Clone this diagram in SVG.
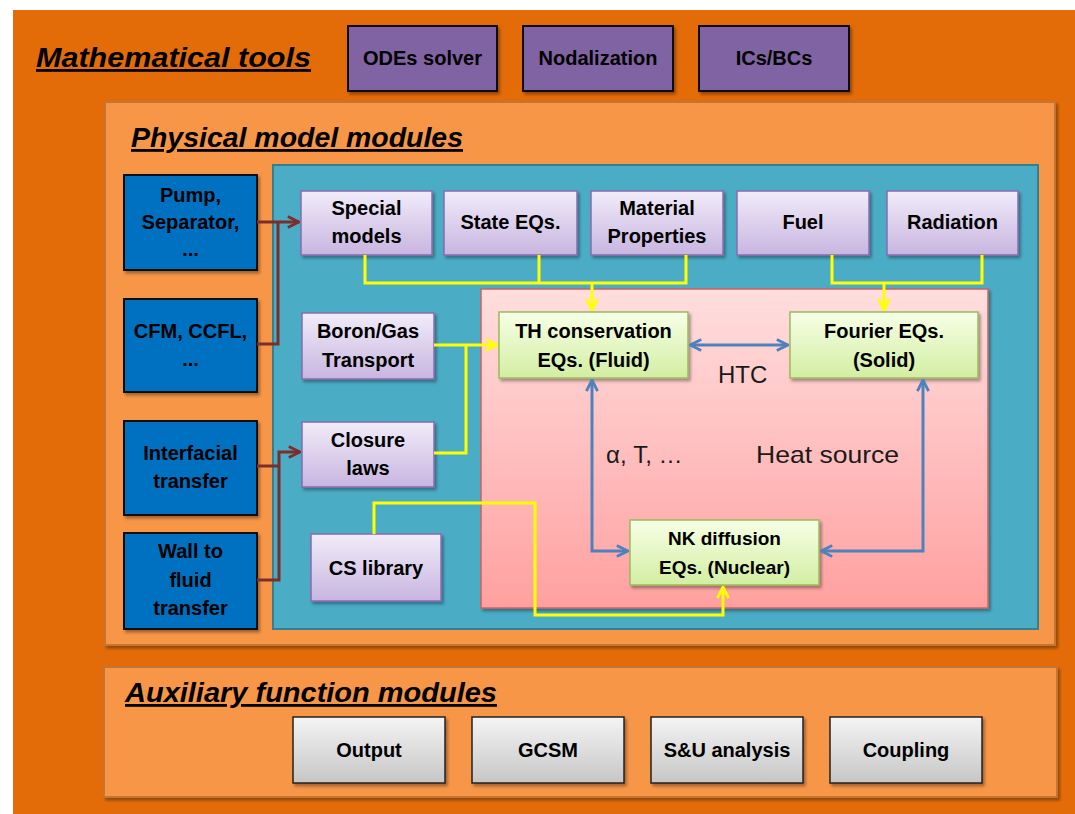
<svg xmlns="http://www.w3.org/2000/svg" width="1075" height="814" viewBox="0 0 1075 814">
<defs>
<linearGradient id="gPurple" x1="0" y1="0" x2="0" y2="1"><stop offset="0" stop-color="#F1ECF9"/><stop offset="1" stop-color="#C8B5E0"/></linearGradient>
<linearGradient id="gGreen" x1="0" y1="0" x2="0" y2="1"><stop offset="0" stop-color="#F6FFE6"/><stop offset="1" stop-color="#D3EEA2"/></linearGradient>
<linearGradient id="gGray" x1="0" y1="0" x2="0" y2="1"><stop offset="0" stop-color="#F4F4F4"/><stop offset="1" stop-color="#C6C6C6"/></linearGradient>
<linearGradient id="gPink" x1="0" y1="0" x2="0" y2="1"><stop offset="0" stop-color="#FFDEDE"/><stop offset="1" stop-color="#FFA0A0"/></linearGradient>
<filter id="sh" x="-10%" y="-10%" width="130%" height="130%"><feDropShadow dx="2" dy="2.5" stdDeviation="1.5" flood-color="#000" flood-opacity="0.35"/></filter>
<marker id="aBrown" viewBox="0 0 10 10" refX="9" refY="5" markerUnits="userSpaceOnUse" markerWidth="14" markerHeight="14" orient="auto-start-reverse"><path d="M1,1 L9,5 L1,9" fill="none" stroke="#7B2E2B" stroke-width="2"/></marker>
<marker id="aYellow" viewBox="0 0 10 10" refX="9" refY="5" markerUnits="userSpaceOnUse" markerWidth="14" markerHeight="14" orient="auto-start-reverse"><path d="M1,1 L9,5 L1,9" fill="none" stroke="#FFFF00" stroke-width="2"/></marker>
<marker id="aBlue" viewBox="0 0 10 10" refX="9" refY="5" markerUnits="userSpaceOnUse" markerWidth="14" markerHeight="14" orient="auto-start-reverse"><path d="M1,1 L9,5 L1,9" fill="none" stroke="#4F81BD" stroke-width="2"/></marker>
</defs>
<style>
.t{font-family:"Liberation Sans",Arial,sans-serif;font-weight:bold;font-size:20px;fill:#000;text-anchor:middle}
.title{font-family:"Liberation Sans",Arial,sans-serif;font-weight:bold;font-style:italic;font-size:28px;fill:#000;text-decoration:underline}
.lbl{font-family:"Liberation Sans",Arial,sans-serif;font-size:24px;fill:#1a1a1a}
.blue{fill:#0070C0;stroke:#111;stroke-width:2;filter:url(#sh)}
.purp{fill:#8064A2;stroke:#111;stroke-width:2;filter:url(#sh)}
.lp{fill:url(#gPurple);stroke:#8A6BAE;stroke-width:1.5;filter:url(#sh)}
.gr{fill:url(#gGreen);stroke:#9BBB59;stroke-width:1.5;filter:url(#sh)}
.gy{fill:url(#gGray);stroke:#222;stroke-width:1.5;filter:url(#sh)}
.cb{fill:none;stroke:#7B2E2B;stroke-width:3}
.cy{fill:none;stroke:#FFFF00;stroke-width:3}
.cbl{fill:none;stroke:#4F81BD;stroke-width:3}
</style>
<rect x="0" y="0" width="1075" height="814" fill="#FFFFFF"/>
<rect x="13" y="10" width="1062" height="804" fill="#E36C09"/>

<g id="math-tools">
<text class="title" x="36" y="67" textLength="275" lengthAdjust="spacingAndGlyphs">Mathematical tools</text>
</g>
<g id="odes"><rect class="purp" x="348" y="26" width="149" height="65"/><text class="t" x="422.5" y="65">ODEs solver</text></g>
<g id="nodalization"><rect class="purp" x="523" y="26" width="150" height="65"/><text class="t" x="598" y="65">Nodalization</text></g>
<g id="icsbcs"><rect class="purp" x="699" y="26" width="150" height="65"/><text class="t" x="774" y="65">ICs/BCs</text></g>

<g id="physical-modules">
<rect x="105" y="102" width="950" height="543" fill="#F79646" stroke="#C27434" stroke-width="2" filter="url(#sh)"/>
<text class="title" x="131" y="147" textLength="332" lengthAdjust="spacingAndGlyphs">Physical model modules</text>
</g>
<g id="teal-area"><rect x="273" y="165" width="765" height="464" fill="#4BACC6" stroke="#357F93" stroke-width="2"/></g>
<g id="core-area"><rect x="481" y="289" width="507" height="319" fill="url(#gPink)" stroke="#D0625E" stroke-width="1.5" filter="url(#sh)"/></g>

<g id="pump"><rect class="blue" x="124" y="175" width="133" height="95"/><text class="t" x="190.5" y="202">Pump,</text><text class="t" x="190.5" y="229">Separator,</text><text class="t" x="190.5" y="256">...</text></g>
<g id="cfm"><rect class="blue" x="124" y="299" width="133" height="93"/><text class="t" x="190.5" y="338">CFM, CCFL,</text><text class="t" x="190.5" y="366">...</text></g>
<g id="interfacial"><rect class="blue" x="124" y="421" width="133" height="94"/><text class="t" x="190.5" y="460">Interfacial</text><text class="t" x="190.5" y="488">transfer</text></g>
<g id="wall"><rect class="blue" x="124" y="533" width="133" height="96"/><text class="t" x="190.5" y="558">Wall to</text><text class="t" x="190.5" y="587">fluid</text><text class="t" x="190.5" y="615">transfer</text></g>

<g id="special"><rect class="lp" x="301" y="191" width="131" height="64"/><text class="t" x="366.5" y="215">Special</text><text class="t" x="366.5" y="243">models</text></g>
<g id="state"><rect class="lp" x="444" y="191" width="133" height="64"/><text class="t" x="510.5" y="229">State EQs.</text></g>
<g id="material"><rect class="lp" x="591" y="191" width="132" height="64"/><text class="t" x="657" y="215">Material</text><text class="t" x="657" y="243">Properties</text></g>
<g id="fuel"><rect class="lp" x="737" y="191" width="132" height="64"/><text class="t" x="803" y="229">Fuel</text></g>
<g id="radiation"><rect class="lp" x="887" y="191" width="131" height="64"/><text class="t" x="952.5" y="229">Radiation</text></g>
<g id="boron"><rect class="lp" x="302" y="313" width="132" height="66"/><text class="t" x="368" y="338">Boron/Gas</text><text class="t" x="368" y="367">Transport</text></g>
<g id="closure"><rect class="lp" x="302" y="422" width="132" height="65"/><text class="t" x="368" y="447">Closure</text><text class="t" x="368" y="475">laws</text></g>
<g id="cslib"><rect class="lp" x="311" y="534" width="130" height="67"/><text class="t" x="376" y="575">CS library</text></g>

<g id="th"><rect class="gr" x="499" y="312" width="189" height="66"/><text class="t" x="593.5" y="338">TH conservation</text><text class="t" x="593.5" y="367">EQs. (Fluid)</text></g>
<g id="fourier"><rect class="gr" x="790" y="312" width="188" height="66"/><text class="t" x="884" y="338">Fourier EQs.</text><text class="t" x="884" y="367">(Solid)</text></g>
<g id="nk"><rect class="gr" x="630" y="520" width="189" height="65"/><text class="t" x="724.5" y="545" style="font-size:19px">NK diffusion</text><text class="t" x="724.5" y="574" style="font-size:19px">EQs. (Nuclear)</text></g>

<g id="connectors">
<path class="cb" d="M257,222 H299" marker-end="url(#aBrown)"/>
<path class="cb" d="M257,344 H278 V222"/>
<path class="cb" d="M257,466 H279"/>
<path class="cb" d="M257,580 H279 V452 H300" marker-end="url(#aBrown)"/>

<path class="cy" d="M365,255 V283 H686 V255"/>
<path class="cy" d="M539,255 V283"/>
<path class="cy" d="M592,283 V310" marker-end="url(#aYellow)"/>
<path class="cy" d="M832,255 V283 H982 V255"/>
<path class="cy" d="M884,283 V310" marker-end="url(#aYellow)"/>
<path class="cy" d="M434,345 H497" marker-end="url(#aYellow)"/>
<path class="cy" d="M434,453 H466 V345"/>
<path class="cy" d="M374,534 V503 H535 V615 H723 V587" marker-end="url(#aYellow)"/>

<path class="cbl" d="M690,345 H788" marker-start="url(#aBlue)" marker-end="url(#aBlue)"/>
<path class="cbl" d="M592,380 V551 H628" marker-start="url(#aBlue)" marker-end="url(#aBlue)"/>
<path class="cbl" d="M923,380 V551 H821" marker-start="url(#aBlue)" marker-end="url(#aBlue)"/>
</g>

<g id="labels">
<text class="lbl" x="718" y="383">HTC</text>
<text class="lbl" x="606" y="463">α, T, …</text>
<text class="lbl" x="756" y="463" textLength="143" lengthAdjust="spacingAndGlyphs">Heat source</text>
</g>

<g id="aux-modules">
<rect x="104" y="667" width="953" height="130" fill="#F79646" stroke="#C27434" stroke-width="2" filter="url(#sh)"/>
<text class="title" x="125" y="702" textLength="372" lengthAdjust="spacingAndGlyphs">Auxiliary function modules</text>
</g>
<g id="output"><rect class="gy" x="293" y="717" width="152" height="66"/><text class="t" x="369" y="757">Output</text></g>
<g id="gcsm"><rect class="gy" x="472" y="717" width="152" height="66"/><text class="t" x="548" y="757">GCSM</text></g>
<g id="su"><rect class="gy" x="651" y="717" width="152" height="66"/><text class="t" x="727" y="757">S&amp;U analysis</text></g>
<g id="coupling"><rect class="gy" x="830" y="717" width="152" height="66"/><text class="t" x="906" y="757">Coupling</text></g>
</svg>
